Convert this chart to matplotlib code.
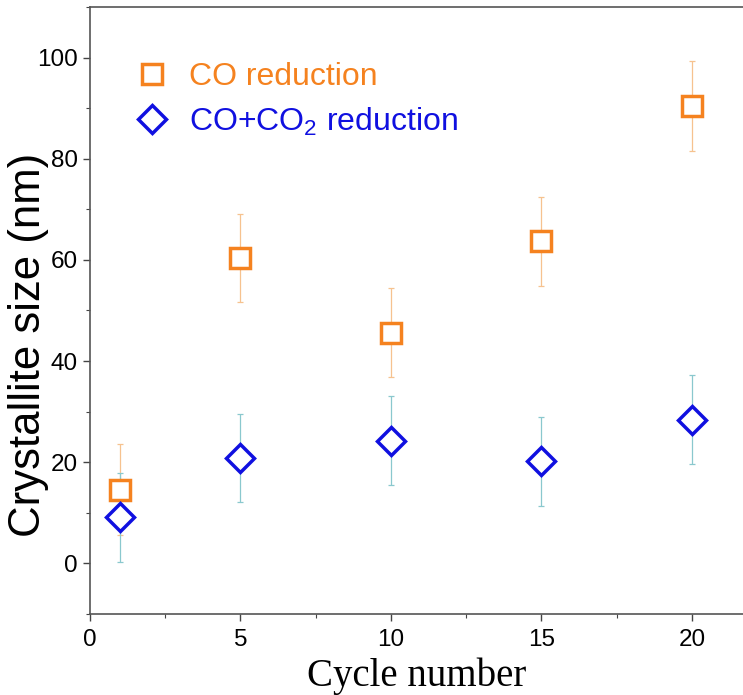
import numpy as np
import matplotlib
matplotlib.use("Agg")
import matplotlib.pyplot as plt
from matplotlib.ticker import MultipleLocator

plt.rcParams['font.family'] = ['Liberation Sans', 'DejaVu Sans']
plt.rcParams['mathtext.fontset'] = 'custom'
plt.rcParams['mathtext.rm'] = 'Liberation Sans'
plt.rcParams['mathtext.it'] = 'Liberation Sans'

# data
cycles = [1, 5, 10, 15, 20]
co_size = [14.5, 60.4, 45.6, 63.7, 90.4]
co_err = [9.0, 8.7, 8.8, 8.8, 8.9]
mix_size = [9.1, 20.9, 24.2, 20.2, 28.4]
mix_err = [8.8, 8.7, 8.8, 8.8, 8.8]

orange = '#f5821f'
orange_err = '#f6c28f'
blue = '#1010e0'
teal_err = '#8ac8ce'

fig = plt.figure(figsize=(7.43, 6.95), dpi=100)
ax = fig.add_axes([0.121, 0.117, 0.879, 0.8725])

ax.errorbar(cycles, co_size, yerr=co_err, fmt='none', ecolor=orange_err,
            elinewidth=0.9, capsize=2, capthick=0.9, zorder=2)
ax.errorbar(cycles, mix_size, yerr=mix_err, fmt='none', ecolor=teal_err,
            elinewidth=0.9, capsize=2, capthick=0.9, zorder=2)

ax.plot(cycles, co_size, ls='none', marker='s', ms=15, mfc='white',
        mec=orange, mew=2.5, label='CO reduction', zorder=3)
ax.plot(cycles, mix_size, ls='none', marker='D', ms=14.5, mfc='white',
        mec=blue, mew=2.5, label='CO+CO$_2$ reduction', zorder=3)

ax.set_xlim(0, 21.7)
ax.set_ylim(-10, 110)
ax.xaxis.set_major_locator(MultipleLocator(5))
ax.xaxis.set_minor_locator(MultipleLocator(2.5))
ax.yaxis.set_major_locator(MultipleLocator(20))
ax.yaxis.set_minor_locator(MultipleLocator(10))
ax.tick_params(which='major', direction='out', length=5, width=1, labelsize=17.5, color='#444444')
ax.tick_params(which='minor', direction='out', length=3, width=0.8, color='#444444')
ax.tick_params(axis='x', pad=6)

for s in ['left', 'bottom', 'top']:
    ax.spines[s].set_color('#555555')
    ax.spines[s].set_linewidth(1.2)
ax.spines['right'].set_visible(False)

ax.set_ylabel('Crystallite size (nm)', fontsize=31.5)
ax.yaxis.set_label_coords(-0.062, 0.444)
ax.set_xlabel('Cycle number', fontsize=28, family='Liberation Serif', labelpad=5)

leg = ax.legend(loc='upper left', bbox_to_anchor=(0.022, 0.957), frameon=False,
                fontsize=23, handlelength=1.2, handletextpad=0.55, labelspacing=0.42,
                labelcolor='markeredgecolor')

fig.savefig('out.png', dpi=100)
